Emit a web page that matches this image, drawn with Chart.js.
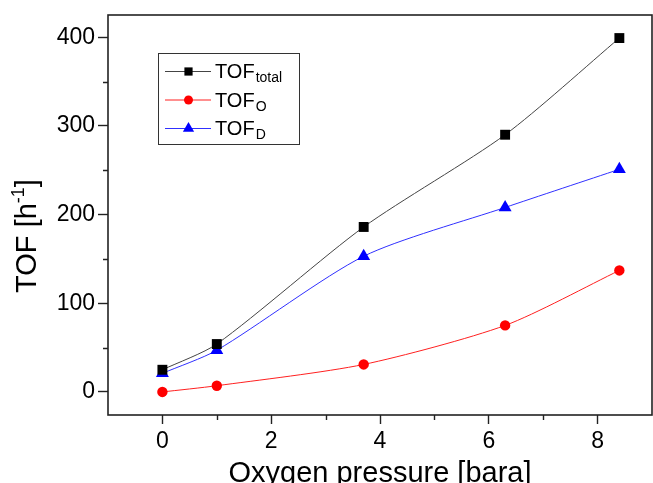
<!DOCTYPE html>
<html>
<head>
<meta charset="utf-8">
<style>
  html, body { margin: 0; padding: 0; background: #fff; overflow: hidden; }
  canvas { display: block; }
</style>
<script src="https://cdn.jsdelivr.net/npm/chart.js@4/dist/chart.umd.min.js"></script>
</head>
<body>
<canvas id="tof" width="653" height="483"></canvas>
<script>
// Oxygen pressure [bara]
const pressure = [0, 1, 3.7, 6.3, 8.4];
// Turnover frequencies [h^-1]
const tofTotal = [25, 54, 186, 290, 399];
const tofO     = [0, 7, 31, 75, 137];
const tofD     = [21, 47, 153, 208, 251];

// Legend text: base name and subscript
const seriesBase = ['TOF', 'TOF', 'TOF'];
const seriesSub  = ['total', 'O', 'D'];

// Axis ticks
const xMajorTicks = [0, 2, 4, 6, 8];
const xMinorTicks = [1, 3, 5, 7];
const yMajorTicks = [0, 100, 200, 300, 400];
const yMinorTicks = [50, 150, 250, 350];

const FONT = '"Liberation Sans", Arial, Helvetica, sans-serif';
const AXIS_COLOR = '#222';

function toPoints(xs, ys) {
  return xs.map((x, i) => ({ x: x, y: ys[i] }));
}

// keep the plot box fixed regardless of tick label overhang
function noPadding(s) {
  s.paddingLeft = 0;
  s.paddingRight = 0;
  s.paddingTop = 0;
  s.paddingBottom = 0;
}

// Frame, minor ticks, axis titles and the legend box
const decorations = {
  id: 'decorations',
  afterDraw(chart) {
    const ctx = chart.ctx;
    const area = chart.chartArea;
    const xs = chart.scales.x;
    const ys = chart.scales.y;
    ctx.save();

    // plot frame
    ctx.strokeStyle = AXIS_COLOR;
    ctx.lineWidth = 1.6;
    ctx.strokeRect(area.left, area.top, area.right - area.left, area.bottom - area.top);

    // minor ticks
    ctx.lineWidth = 1.4;
    ctx.beginPath();
    xMinorTicks.forEach(v => {
      const px = Math.round(xs.getPixelForValue(v)) + 0.5;
      ctx.moveTo(px, area.bottom);
      ctx.lineTo(px, area.bottom + 5);
    });
    yMinorTicks.forEach(v => {
      const py = Math.round(ys.getPixelForValue(v)) + 0.5;
      ctx.moveTo(area.left - 5, py);
      ctx.lineTo(area.left, py);
    });
    ctx.stroke();

    // x axis title
    ctx.fillStyle = '#000';
    ctx.font = '29px ' + FONT;
    ctx.textAlign = 'center';
    ctx.textBaseline = 'alphabetic';
    ctx.fillText('Oxygen pressure [bara]', (area.left + area.right) / 2, 482);

    // y axis title with superscript
    ctx.save();
    ctx.translate(36, 236);
    ctx.rotate(-Math.PI / 2);
    ctx.textAlign = 'left';
    const main = 'TOF [h';
    const sup = '-1';
    const close = ']';
    ctx.font = '29px ' + FONT;
    const wMain = ctx.measureText(main).width;
    const wClose = ctx.measureText(close).width;
    ctx.font = '18px ' + FONT;
    const wSup = ctx.measureText(sup).width;
    const total = wMain + wSup + wClose;
    let cx = -total / 2;
    ctx.font = '29px ' + FONT;
    ctx.fillText(main, cx, 0);
    cx += wMain;
    ctx.font = '18px ' + FONT;
    ctx.fillText(sup, cx, -12);
    cx += wSup;
    ctx.font = '29px ' + FONT;
    ctx.fillText(close, cx, 0);
    ctx.restore();

    // legend
    const box = { left: 158.5, top: 53.5, right: 299.5, bottom: 144.5 };
    ctx.lineWidth = 1;
    ctx.strokeStyle = '#333';
    ctx.strokeRect(box.left, box.top, box.right - box.left, box.bottom - box.top);
    const rowY = [71, 99.5, 128];
    chart.data.datasets.forEach((ds, i) => {
      const y = rowY[i];
      ctx.strokeStyle = ds.borderColor;
      ctx.lineWidth = 1;
      ctx.beginPath();
      ctx.moveTo(165, y + 0.5);
      ctx.lineTo(211, y + 0.5);
      ctx.stroke();
      ctx.fillStyle = ds.pointBackgroundColor;
      ctx.strokeStyle = ds.pointBackgroundColor;
      Chart.helpers.drawPoint(ctx, {
        pointStyle: ds.pointStyle,
        radius: ds.pointStyle === 'circle' ? 4.5 : (ds.pointStyle === 'triangle' ? 6.5 : 5.8),
        rotation: 0,
        borderWidth: 0
      }, 188.5, y + 0.5);
      ctx.fillStyle = '#000';
      ctx.textAlign = 'left';
      ctx.font = '20px ' + FONT;
      ctx.fillText(seriesBase[i], 215, y + 7);
      const w = ctx.measureText(seriesBase[i]).width;
      ctx.font = '14px ' + FONT;
      ctx.fillText(seriesSub[i], 215 + w + 1, y + 11);
    });

    ctx.restore();
  }
};

const makeSeries = (label, ys, color, lineColor, style, radius) => ({
  label: label,
  data: toPoints(pressure, ys),
  borderColor: lineColor,
  borderWidth: 1,
  pointStyle: style,
  pointRadius: radius,
  pointHoverRadius: radius,
  pointBackgroundColor: color,
  pointBorderColor: color,
  pointBorderWidth: 0,
  tension: 0.25,
  fill: false
});

new Chart(document.getElementById('tof'), {
  type: 'scatter',
  data: {
    datasets: [
      makeSeries('TOF total', tofTotal, '#000000', '#444444', 'rect', 7),
      makeSeries('TOF O', tofO, '#ff0000', '#ff2020', 'circle', 5.2),
      makeSeries('TOF D', tofD, '#0000ff', '#3030ff', 'triangle', 7.5)
    ]
  },
  options: {
    responsive: false,
    animation: false,
    devicePixelRatio: 1,
    showLine: true,
    layout: { autoPadding: false, padding: { left: 0, top: 15, right: 1, bottom: 0 } },
    plugins: {
      legend: { display: false },
      tooltip: { enabled: false },
      title: { display: false }
    },
    scales: {
      x: {
        type: 'linear',
        min: -1,
        max: 9,
        afterBuildTicks: s => { s.ticks = xMajorTicks.map(v => ({ value: v })); },
        afterFit: s => { s.height = 68; noPadding(s); },
        border: { display: false },
        grid: {
          drawOnChartArea: false,
          drawTicks: true,
          tickLength: 9,
          tickColor: AXIS_COLOR,
          tickWidth: 1.4
        },
        ticks: {
          color: '#000',
          padding: 4,
          maxRotation: 0,
          font: { family: FONT, size: 23 }
        },
        title: { display: false }
      },
      y: {
        type: 'linear',
        min: -26,
        max: 425,
        afterBuildTicks: s => { s.ticks = yMajorTicks.map(v => ({ value: v })); },
        afterFit: s => { s.width = 108; noPadding(s); },
        border: { display: false },
        grid: {
          drawOnChartArea: false,
          drawTicks: true,
          tickLength: 10,
          tickColor: AXIS_COLOR,
          tickWidth: 1.4
        },
        ticks: {
          color: '#000',
          padding: 3,
          font: { family: FONT, size: 23 }
        },
        title: { display: false }
      }
    }
  },
  plugins: [decorations]
});
</script>
</body>
</html>
